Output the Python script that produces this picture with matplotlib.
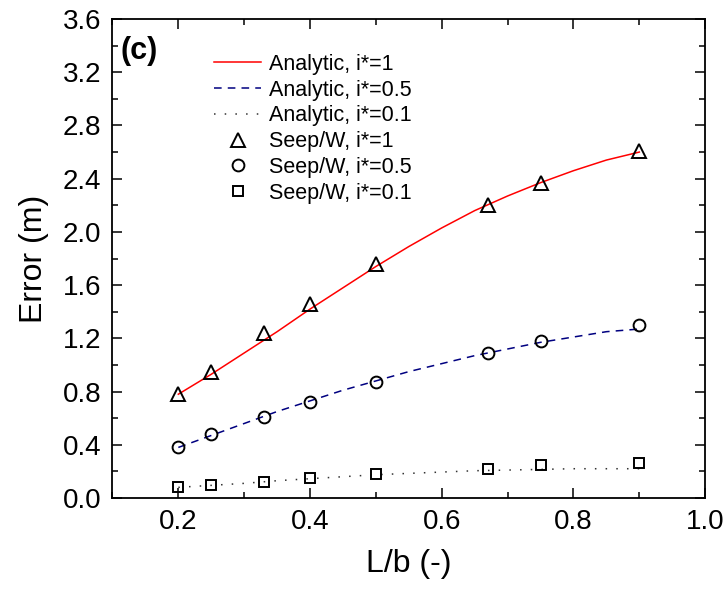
import matplotlib
matplotlib.use("Agg")
import matplotlib.pyplot as plt
from matplotlib.ticker import MultipleLocator

plt.rcParams['font.family'] = ['Liberation Sans', 'DejaVu Sans']

# Analytic curves
x_an = [0.2, 0.25, 0.3, 0.35, 0.4, 0.45, 0.5, 0.55, 0.6, 0.65, 0.7, 0.75, 0.8, 0.85, 0.9]
an_i1 = [0.78, 0.93, 1.09, 1.25, 1.42, 1.58, 1.74, 1.89, 2.03, 2.16, 2.27, 2.37, 2.46, 2.54, 2.60]
an_i05 = [0.38, 0.47, 0.56, 0.65, 0.73, 0.81, 0.88, 0.95, 1.01, 1.07, 1.12, 1.17, 1.21, 1.25, 1.27]
an_i01 = [0.08, 0.095, 0.11, 0.13, 0.145, 0.16, 0.175, 0.185, 0.195, 0.205, 0.21, 0.215, 0.22, 0.22, 0.22]

# Seep/W points
x_sw = [0.2, 0.25, 0.33, 0.4, 0.5, 0.67, 0.75, 0.9]
sw_i1 = [0.78, 0.95, 1.24, 1.46, 1.76, 2.20, 2.37, 2.61]
sw_i05 = [0.38, 0.48, 0.61, 0.725, 0.875, 1.09, 1.18, 1.30]
sw_i01 = [0.08, 0.095, 0.12, 0.15, 0.18, 0.22, 0.245, 0.26]

fig = plt.figure(figsize=(7.27, 5.89), dpi=100)
ax = fig.add_axes([0.1547, 0.1545, 0.8153, 0.8132])

lw = 1.1
ax.plot(x_an, an_i1, color='#ff0000', lw=lw, ls='-', label='Analytic, i*=1')
ax.plot(x_an, an_i05, color='#000080', lw=lw, ls=(0, (5, 4)), label='Analytic, i*=0.5')
ax.plot(x_an, an_i01, color='#333333', lw=lw, ls=(0, (1, 6)), label='Analytic, i*=0.1')
mk = dict(ls='none', mfc='none', mec='black', mew=1.4)
ax.plot(x_sw, sw_i1, marker='^', ms=10, label='Seep/W, i*=1', **mk)
ax.plot(x_sw, sw_i05, marker='o', ms=8.5, label='Seep/W, i*=0.5', **mk)
ax.plot(x_sw, sw_i01, marker='s', ms=7.5, label='Seep/W, i*=0.1', **mk)

ax.set_xlim(0.1, 1.0)
ax.set_ylim(0.0, 3.6)
ax.xaxis.set_major_locator(MultipleLocator(0.2))
ax.xaxis.set_minor_locator(MultipleLocator(0.1))
ax.yaxis.set_major_locator(MultipleLocator(0.4))
ax.yaxis.set_minor_locator(MultipleLocator(0.2))
ax.xaxis.set_major_formatter(matplotlib.ticker.FormatStrFormatter('%.1f'))
ax.yaxis.set_major_formatter(matplotlib.ticker.FormatStrFormatter('%.1f'))
ax.tick_params(which='both', direction='in', top=True, right=True, width=1.1)
ax.tick_params(which='major', length=7, labelsize=20, pad=8)
ax.tick_params(which='minor', length=4)
for s in ax.spines.values():
    s.set_linewidth(1.3)

ax.set_xlabel('L/b (-)', fontsize=23, labelpad=10)
ax.set_ylabel('Error (m)', fontsize=23, labelpad=10)
ax.text(0.013, 0.965, '(c)', transform=ax.transAxes, fontsize=22, fontweight='bold', va='top', ha='left')

ax.legend(loc='upper left', bbox_to_anchor=(0.157, 0.945), frameon=False, fontsize=15.5,
          handlelength=2.2, handletextpad=0.35, labelspacing=0.22, borderaxespad=0)

fig.savefig('out.png', dpi=100)
